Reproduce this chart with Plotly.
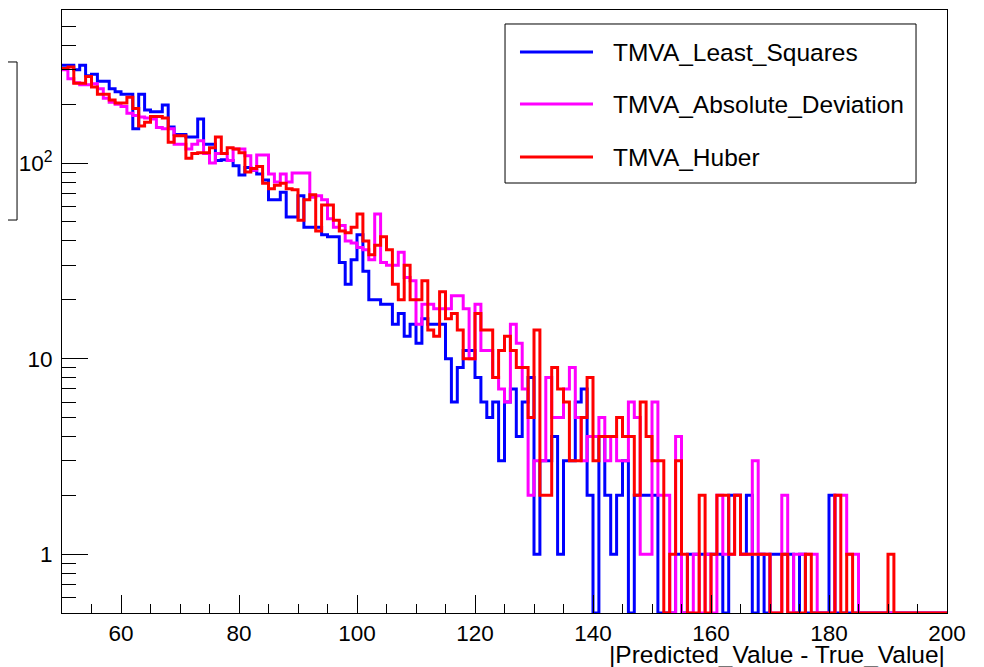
import math
import plotly.graph_objects as go

# ---------------- data (bin contents, 1-unit bins from 50 to 200) ----------------
bin_low = 50
bin_width = 1

least_squares = [
    317, 317, 300, 317, 280, 285, 262, 262, 240, 232,   # 50-59
    225, 225, 150, 225, 187, 183, 183, 198, 153, 140,   # 60-69
    140, 136, 136, 168, 125, 125, 103, 104, 103, 97,    # 70-79
    87, 95, 92, 88, 82, 65, 65, 71, 53, 53,             # 80-89
    68, 47, 47, 47, 43, 42, 42, 31, 24, 32,             # 90-99
    43, 28, 20, 20, 19, 19, 15, 17, 13, 15,             # 100-109
    12, 16, 15, 15, 15, 10, 6, 9, 11, 11,               # 110-119
    8, 6, 5, 6, 3, 6, 7, 4, 6, 8,                       # 120-129
    1, 3, 3, 4, 1, 3, 3, 6, 7, 2,                       # 130-139
    0, 4, 2, 1, 2, 3, 0, 2, 2, 2,                       # 140-149
    2, 0, 0, 0, 1, 0, 1, 1, 1, 1,                       # 150-159
    1, 1, 0, 2, 2, 1, 2, 0, 1, 0,                       # 160-169
    1, 1, 1, 1, 0, 1, 0, 0, 0, 0,                       # 170-179
    2, 0, 0, 0, 0, 0, 0, 0, 0, 0,                       # 180-189
    0, 0, 0, 0, 0, 0, 0, 0, 0, 0,                       # 190-199
]

absolute_deviation = [
    300, 270, 258, 252, 252, 255, 240, 215, 205, 200,   # 50-59
    195, 180, 175, 172, 170, 168, 152, 150, 150, 125,   # 60-69
    125, 118, 125, 130, 112, 100, 112, 112, 103, 118,   # 70-79
    118, 109, 92, 110, 110, 88, 80, 88, 80, 89,         # 80-89
    89, 89, 67, 68, 65, 52, 47, 48, 40, 39,             # 90-99
    37, 36, 32, 55, 31, 30, 30, 35, 26, 25,             # 100-109
    15, 19, 19, 18, 18, 18, 21, 21, 18, 10,             # 110-119
    19, 11, 11, 8, 7, 6, 15, 12, 7, 2,                  # 120-129
    3, 3, 8, 5, 5, 7, 9, 5, 3, 4,                       # 130-139
    4, 5, 3, 4, 3, 3, 6, 5, 1, 1,                       # 140-149
    6, 2, 2, 0, 4, 0, 0, 1, 0, 1,                       # 150-159
    0, 2, 1, 1, 2, 1, 1, 3, 1, 1,                       # 160-169
    0, 0, 2, 0, 1, 1, 1, 1, 0, 0,                       # 170-179
    0, 2, 2, 1, 1, 0, 0, 0, 0, 0,                       # 180-189
    0, 0, 0, 0, 0, 0, 0, 0, 0, 0,                       # 190-199
]

huber = [
    305, 310, 256, 256, 277, 245, 225, 225, 210, 203,   # 50-59
    203, 217, 190, 155, 162, 173, 173, 170, 128, 138,   # 60-69
    138, 106, 112, 113, 113, 120, 136, 112, 120, 118,   # 70-79
    113, 90, 94, 96, 79, 74, 77, 79, 74, 73,            # 80-89
    51, 65, 69, 45, 61, 61, 51, 45, 44, 47,             # 90-99
    55, 40, 34, 38, 42, 36, 24, 20, 30, 20,             # 100-109
    20, 25, 14, 13, 22, 16, 17, 14, 10, 10,             # 110-119
    17, 14, 14, 8, 11, 13, 11, 9, 9, 5,                 # 120-129
    14, 2, 2, 9, 7, 6, 3, 3, 5, 8,                      # 130-139
    3, 4, 4, 4, 5, 4, 4, 2, 6, 4,                       # 140-149
    3, 3, 0, 1, 3, 1, 0, 0, 2, 0,                       # 150-159
    1, 2, 2, 1, 2, 1, 1, 1, 1, 1,                       # 160-169
    0, 0, 1, 0, 0, 0, 1, 0, 0, 0,                       # 170-179
    0, 2, 0, 1, 0, 0, 0, 0, 0, 0,                       # 180-189
    1, 0, 0, 0, 0, 0, 0, 0, 0, 0,                       # 190-199
]

series_names = ["TMVA_Least_Squares", "TMVA_Absolute_Deviation", "TMVA_Huber"]
series_colors = ["#0000ff", "#ff00ff", "#ff0000"]

x_tick_vals = [60, 80, 100, 120, 140, 160, 180, 200]
y_tick_vals = [1, 10, 100]
y_tick_text = ["1", "10", "10<sup>2</sup>"]
x_title = "|Predicted_Value - True_Value|"

# ---------------- figure ----------------
Y_MIN = 0.5
Y_MAX = 607.0
FONT = "Liberation Sans, Arial, Helvetica, sans-serif"

fig = go.Figure()
all_series = [least_squares, absolute_deviation, huber]
for name, vals, col in zip(series_names, all_series, series_colors):
    n = len(vals)
    edges = [bin_low + i * bin_width for i in range(n + 1)]
    ys = [v if v > 0 else Y_MIN for v in vals]
    ys = ys + [ys[-1]]
    fig.add_trace(go.Scatter(
        x=edges, y=ys, mode="lines", name=name,
        line=dict(color=col, width=3, shape="hv"),
        showlegend=False, hoverinfo="skip",
    ))

minor_y = [0.6, 0.7, 0.8, 0.9] + list(range(2, 10)) + list(range(20, 100, 10)) + list(range(200, 700, 100))

# the page body has an 8px default margin, so the figure is 8px smaller
fig.update_layout(
    width=976, height=659,
    margin=dict(l=54, r=37, t=2, b=54),
    paper_bgcolor="white", plot_bgcolor="white",
    font=dict(family=FONT, size=22, color="black"),
    xaxis=dict(
        range=[50, 200], showgrid=False, zeroline=False,
        showline=True, linecolor="black", linewidth=1, mirror=True,
        ticks="inside", ticklen=18, tickwidth=1, tickcolor="black",
        tickmode="array", tickvals=x_tick_vals,
        minor=dict(ticks="inside", ticklen=9, tickwidth=1, tickcolor="black",
                   tickmode="linear", tick0=50, dtick=5, showgrid=False),
        tickfont=dict(family=FONT, size=22.5, color="black"),
    ),
    yaxis=dict(
        type="log", range=[math.log10(Y_MIN), math.log10(Y_MAX)],
        showgrid=False, zeroline=False,
        showline=True, linecolor="black", linewidth=1, mirror=True,
        ticks="inside", ticklen=26, tickwidth=1, tickcolor="black",
        tickmode="array", tickvals=y_tick_vals, ticktext=y_tick_text,
        ticklabelstandoff=4,
        minor=dict(ticks="inside", ticklen=14, tickwidth=1, tickcolor="black",
                   tickmode="array", tickvals=minor_y, showgrid=False),
        tickfont=dict(family=FONT, size=22.5, color="black"),
    ),
)

# x-axis title, right aligned at the end of the axis (ROOT style)
fig.add_annotation(
    text=x_title, xref="paper", yref="paper", x=1.0, y=-0.068,
    xanchor="right", yanchor="middle", showarrow=False,
    font=dict(family=FONT, size=24.5, color="black"),
)

# partially visible stats box on the left edge
fig.add_shape(type="rect", xref="paper", yref="paper",
              x0=-0.12, x1=-0.0508, y0=0.6517, y1=0.9138,
              line=dict(color="black", width=1), fillcolor="rgba(0,0,0,0)")

# legend box (drawn manually, ROOT style)
fig.add_shape(type="rect", xref="paper", yref="paper",
              x0=0.5006, x1=0.9650, y0=0.7131, y1=0.9768,
              line=dict(color="black", width=1), fillcolor="white")
leg_y = [0.9303, 0.8441, 0.7562]
for name, col, yy in zip(series_names, series_colors, leg_y):
    fig.add_shape(type="line", xref="paper", yref="paper",
                  x0=0.5175, x1=0.600, y0=yy, y1=yy,
                  line=dict(color=col, width=3))
    fig.add_annotation(text=name, xref="paper", yref="paper", x=0.6203, y=yy,
                       xanchor="left", yanchor="middle", showarrow=False,
                       font=dict(family=FONT, size=24.5, color="black"))

fig.write_html("out.html")
